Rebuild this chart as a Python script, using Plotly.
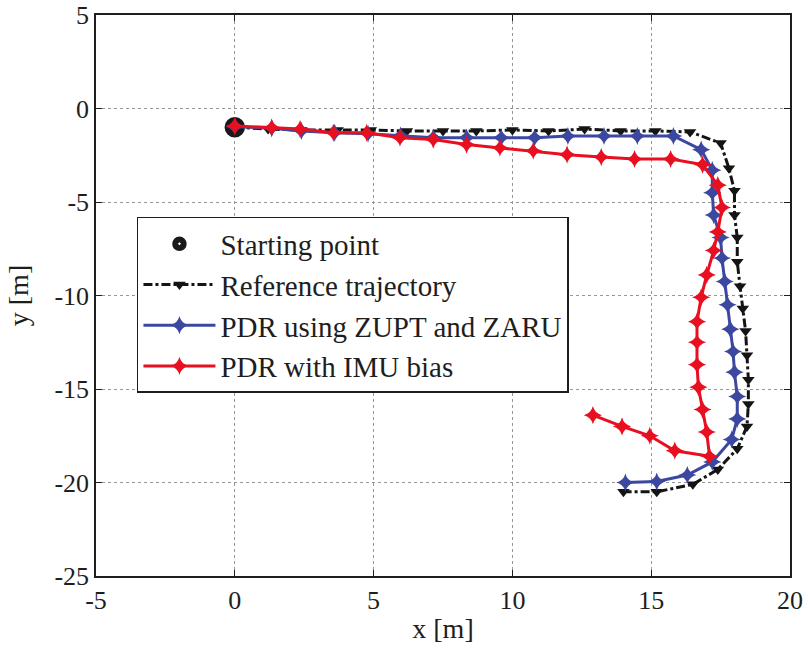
import plotly.graph_objects as go

# Starting point
start_x = [0.0]
start_y = [-1.0]

# Reference trajectory
ref_x = [0.0, 1.2, 2.4, 3.7, 4.9, 6.2, 7.5, 8.7, 10.0, 11.3, 12.6, 13.9, 15.15, 16.4,
         17.5, 17.8, 18.0, 18.0, 18.1, 18.1, 18.2, 18.3, 18.4, 18.45, 18.5, 18.5,
         18.45, 18.1, 17.4, 16.5, 15.2, 14.0]
ref_y = [-1.0, -1.1, -1.15, -1.15, -1.15, -1.2, -1.2, -1.2, -1.15, -1.2, -1.1, -1.2, -1.2, -1.25,
         -1.85, -3.2, -4.4, -5.7, -6.9, -8.2, -9.5, -10.7, -11.9, -13.2, -14.5, -15.8,
         -17.0, -18.2, -19.3, -20.1, -20.5, -20.5]

# PDR using ZUPT and ZARU
zupt_x = [0.0, 1.33, 2.4, 3.6, 4.8, 5.97, 7.15, 8.35, 9.6, 10.8, 12.0, 13.3, 14.5, 15.8,
          16.8, 17.2, 17.2, 17.25, 17.5, 17.55, 17.65, 17.75, 17.85, 17.95, 18.0, 18.1,
          18.1, 17.9, 17.2, 16.3, 15.2, 14.07]
zupt_y = [-0.97, -1.05, -1.2, -1.3, -1.35, -1.45, -1.56, -1.56, -1.56, -1.56, -1.47, -1.47, -1.47, -1.47,
          -2.2, -3.3, -4.5, -5.7, -6.9, -8.0, -9.25, -10.5, -11.8, -13.0, -14.1, -15.4,
          -16.6, -17.7, -18.9, -19.6, -19.95, -20.0]

# PDR with IMU bias
bias_x = [0.0, 1.33, 2.35, 3.55, 4.75, 5.95, 7.15, 8.35, 9.55, 10.75, 11.97, 13.2, 14.4, 15.7,
          16.85, 17.4, 17.55, 17.4, 17.25, 17.0, 16.8, 16.65, 16.65, 16.65, 16.7, 16.85,
          17.0, 17.1, 15.85, 14.95, 13.95, 12.9]
bias_y = [-0.93, -1.02, -1.1, -1.3, -1.3, -1.56, -1.66, -1.93, -2.1, -2.26, -2.47, -2.6, -2.7, -2.7,
          -3.0, -4.1, -5.3, -6.6, -7.6, -8.9, -10.1, -11.4, -12.5, -13.7, -14.9, -16.1,
          -17.3, -18.6, -18.3, -17.5, -17.0, -16.4]

x_ticks = [-5, 0, 5, 10, 15, 20]
x_tick_labels = ["-5", "0", "5", "10", "15", "20"]
y_ticks = [5, 0, -5, -10, -15, -20, -25]
y_tick_labels = ["5", "0", "-5", "-10", "-15", "-20", "-25"]

BLUE = "rgb(60,72,160)"
RED = "rgb(232,16,32)"
FONT = "Liberation Serif, Times New Roman, serif"

fig = go.Figure()

fig.add_trace(go.Scatter(
    x=start_x, y=start_y, mode="markers", name="Starting point",
    marker=dict(symbol="circle-dot", size=22, color="rgb(25,25,25)",
                line=dict(color="white", width=1.5)),
))
fig.add_trace(go.Scatter(
    x=ref_x, y=ref_y, mode="lines+markers", name="Reference trajectory",
    line=dict(color="rgb(20,20,20)", width=3, dash="dashdot"),
    marker=dict(symbol="triangle-down", size=11, color="rgb(20,20,20)"),
))
fig.add_trace(go.Scatter(
    x=zupt_x, y=zupt_y, mode="lines+markers", name="PDR using ZUPT and ZARU",
    line=dict(color=BLUE, width=3),
    marker=dict(symbol="star-diamond", size=13, color=BLUE),
))
fig.add_trace(go.Scatter(
    x=bias_x, y=bias_y, mode="lines+markers", name="PDR with IMU bias",
    line=dict(color=RED, width=3),
    marker=dict(symbol="star-diamond", size=13, color=RED),
))

axis_common = dict(
    showgrid=True, gridcolor="rgb(150,150,150)", griddash="dot", gridwidth=1,
    zeroline=False, showline=True, linecolor="rgb(30,30,30)", linewidth=1.5, mirror="ticks",
    ticks="inside", ticklen=6, tickcolor="rgb(30,30,30)",
    tickfont=dict(family=FONT, size=26, color="rgb(30,30,30)"),
    automargin=False,
)

fig.update_layout(
    width=803, height=646,
    margin=dict(l=96, r=13, t=15, b=70),
    paper_bgcolor="white", plot_bgcolor="white",
    font=dict(family=FONT, color="rgb(30,30,30)"),
    showlegend=True,
    legend=dict(
        x=0.059, y=0.64, xanchor="left", yanchor="top",
        bgcolor="white", bordercolor="rgb(30,30,30)", borderwidth=1.5,
        font=dict(family=FONT, size=29, color="rgb(30,30,30)"),
        itemwidth=72, tracegroupgap=0,
    ),
    xaxis=dict(range=[-5, 20], tickvals=x_ticks, ticktext=x_tick_labels,
               title=dict(text="x [m]", font=dict(family=FONT, size=28), standoff=4),
               **axis_common),
    yaxis=dict(range=[-25, 5], tickvals=y_ticks, ticktext=y_tick_labels,
               title=dict(text="y [m]", font=dict(family=FONT, size=28), standoff=18),
               **axis_common),
)

fig.write_html("out.html")
